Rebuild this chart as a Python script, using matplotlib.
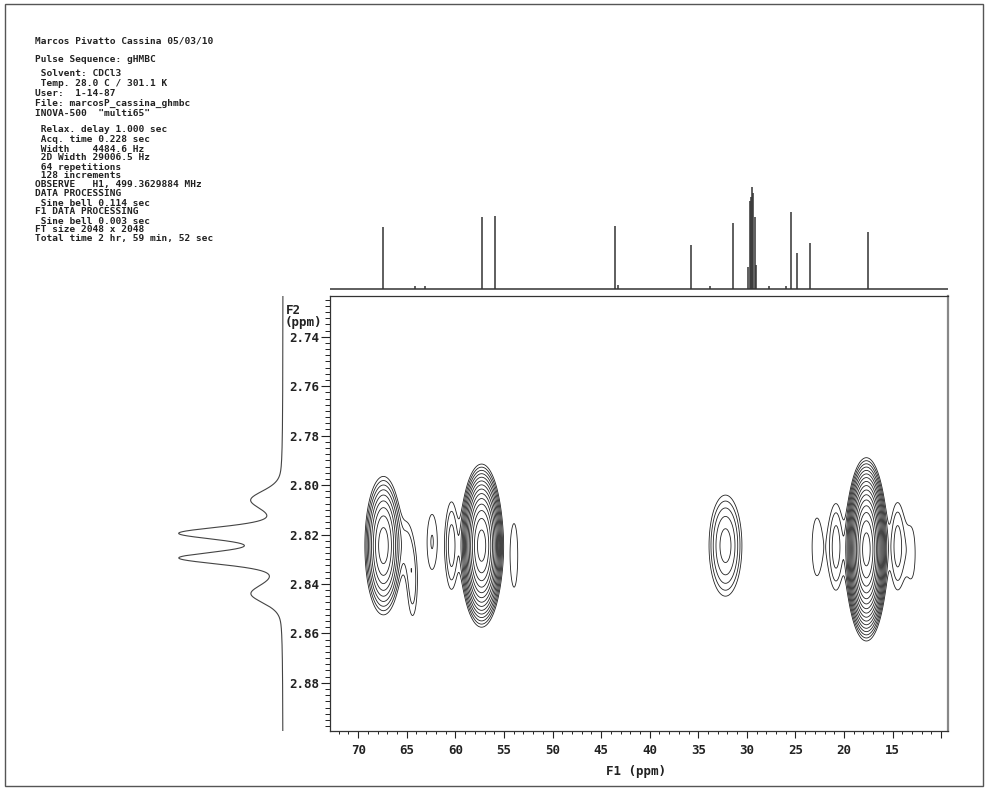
import numpy as np
import matplotlib
matplotlib.use("Agg")
import matplotlib.pyplot as plt
from matplotlib.patches import Rectangle
from matplotlib.ticker import MultipleLocator, FixedLocator

plt.rcParams["font.family"] = ["DejaVu Sans Mono"]
plt.rcParams["font.weight"] = "bold"

W, H = 988, 790

# ── acquisition header ─────────────────────────────
header_lines = [
    "Marcos Pivatto Cassina 05/03/10",
    "Pulse Sequence: gHMBC",
    " Solvent: CDCl3",
    " Temp. 28.0 C / 301.1 K",
    "User:  1-14-87",
    "File: marcosP_cassina_ghmbc",
    "INOVA-500  \"multi65\"",
    " Relax. delay 1.000 sec",
    " Acq. time 0.228 sec",
    " Width    4484.6 Hz",
    " 2D Width 29006.5 Hz",
    " 64 repetitions",
    " 128 increments",
    "OBSERVE   H1, 499.3629884 MHz",
    "DATA PROCESSING",
    " Sine bell 0.114 sec",
    "F1 DATA PROCESSING",
    " Sine bell 0.003 sec",
    "FT size 2048 x 2048",
    "Total time 2 hr, 59 min, 52 sec",
]
header_rows = [41, 59, 73, 83, 93, 103, 113, 130, 139.5, 149, 158, 167,
               176, 185, 194, 203, 212, 221, 230, 239]

# ── 13C trace along F1 (ppm, intensity) ────────────
c13_shift = [67.4, 64.2, 63.1, 57.3, 55.9, 43.6, 43.3, 35.8, 33.8, 31.4,
             29.85, 29.7, 29.55, 29.45, 29.35, 29.2, 29.05, 27.7, 26.0,
             25.5, 24.8, 23.5, 17.5]
c13_height = [62, 3, 3, 72, 73, 63, 4, 44, 3, 66,
              22, 88, 92, 102, 96, 72, 24, 3, 3,
              77, 36, 46, 57]

# ── 1H trace along F2 (pseudo-Voigt lines) ─────────
h1_shift = [2.806, 2.8195, 2.8295, 2.844]
h1_height = [30, 100, 100, 30]
h1_hwhm = [0.0045, 0.003, 0.003, 0.0045]
H1_ETA = 0.35

# ── HMBC cross peaks ───────────────────────────────
peak_f1 = [67.4, 65.0, 64.4, 62.4, 60.4, 57.3, 53.95, 32.2,
           22.8, 20.8, 17.7, 14.5, 13.0]
peak_f2 = [2.8245, 2.823, 2.840, 2.823, 2.8245, 2.8245, 2.8285, 2.8245,
           2.825, 2.825, 2.826, 2.8247, 2.8277]
peak_amp = [9.5, 0.9, 1.5, 1.32, 1.93, 34.5, 1.25, 3.26,
            1.2, 1.93, 58.4, 1.93, 1.15]
peak_wf1 = [0.9, 0.5, 0.5, 0.67, 0.54, 0.83, 0.55, 1.1,
            0.8, 0.6, 0.76, 0.62, 0.55]
peak_wf2 = [0.0132, 0.010, 0.014, 0.0149, 0.0152, 0.0124, 0.019, 0.0133,
            0.019, 0.0148, 0.013, 0.0152, 0.015]

F1_LIM = (72.9, 9.3)
F2_LIM = (2.8995, 2.7235)


def px(x0, y0, x1, y1):
    """pixel box (left, top, right, bottom) -> figure rect"""
    return [x0 / W, 1 - y1 / H, (x1 - x0) / W, (y1 - y0) / H]


fig = plt.figure(figsize=(W / 100, H / 100), dpi=100)

# 2D map
ax = fig.add_axes(px(330, 296, 948, 731))
f1 = np.linspace(F1_LIM[1], F1_LIM[0], 1400)
f2 = np.linspace(F2_LIM[1], F2_LIM[0], 800)
G1, G2 = np.meshgrid(f1, f2)
Z = np.zeros_like(G1)
for c1, c2, a, s1, s2 in zip(peak_f1, peak_f2, peak_amp, peak_wf1, peak_wf2):
    Z += a * np.exp(-((G1 - c1) ** 2 / (2 * s1 ** 2) + (G2 - c2) ** 2 / (2 * s2 ** 2)))
levels = 1.0 * 1.3 ** np.arange(18)
ax.contour(G1, G2, Z, levels=levels, colors="#222222", linewidths=0.6)
ax.set_xlim(F1_LIM)
ax.set_ylim(F2_LIM)

ax.xaxis.set_major_locator(FixedLocator(np.arange(10, 75, 5)))
ax.set_xticklabels(["" if v == 10 else str(v) for v in range(10, 75, 5)])
ax.xaxis.set_minor_locator(MultipleLocator(1))
ax.yaxis.set_major_locator(FixedLocator([2.74, 2.76, 2.78, 2.80, 2.82, 2.84, 2.86, 2.88]))
ax.set_yticklabels(["2.74", "2.76", "2.78", "2.80", "2.82", "2.84", "2.86", "2.88"])
ax.yaxis.set_minor_locator(MultipleLocator(0.0025))
ax.tick_params(axis="x", which="major", direction="out", length=5, width=0.8,
               labelsize=9, pad=4, colors="#222222")
ax.tick_params(axis="x", which="minor", direction="out", length=2.5, width=0.7,
               colors="#222222")
ax.tick_params(axis="y", which="major", direction="out", length=6.5, width=0.8,
               labelsize=9, pad=1.5, colors="#222222")
ax.tick_params(axis="y", which="minor", direction="out", length=3.5, width=0.7,
               colors="#222222")
for s in ax.spines.values():
    s.set_color("#333333")
    s.set_linewidth(0.9)
ax.spines["right"].set_color("#888888")
ax.spines["right"].set_linewidth(1.6)

# 13C trace on top
ax_top = fig.add_axes(px(330, 180, 948, 291))
ax_top.plot(F1_LIM, [0, 0], color="#333333", lw=1.1)
ax_top.vlines(c13_shift, 0, c13_height, color="#333333", lw=1.1)
ax_top.set_xlim(F1_LIM)
ax_top.set_ylim(-2, 109)
ax_top.axis("off")

# 1H trace on the left
ax_left = fig.add_axes(px(150, 296, 290, 731))
y = np.linspace(F2_LIM[1], F2_LIM[0], 3000)
trace = np.zeros_like(y)
for c, h, w in zip(h1_shift, h1_height, h1_hwhm):
    u = (y - c) / w
    trace += h * ((1 - H1_ETA) * np.exp(-np.log(2) * u ** 2) + H1_ETA / (1 + u ** 2))
ax_left.plot(trace, y, color="#444444", lw=0.8)
ax_left.set_xlim(133, -7)
ax_left.set_ylim(F2_LIM)
ax_left.axis("off")

# axis titles
fig.text(636 / W, 1 - 771 / H, "F1 (ppm)", ha="center", va="center",
         fontsize=9, color="#222222")
fig.text(286 / W, 1 - 310 / H, "F2", ha="left", va="center",
         fontsize=9, color="#222222")
fig.text(285 / W, 1 - 323 / H, "(ppm)", ha="left", va="center",
         fontsize=9, color="#222222")

for line, row in zip(header_lines, header_rows):
    fig.text(35 / W, 1 - row / H, line, ha="left", va="center",
             fontsize=6.8, color="#222222")

# page frame
fig.add_artist(Rectangle((5 / W, 4 / H), 978 / W, 782 / H, transform=fig.transFigure,
                         fill=False, lw=1.0, ec="#555555"))

fig.savefig("out.png", dpi=100)
